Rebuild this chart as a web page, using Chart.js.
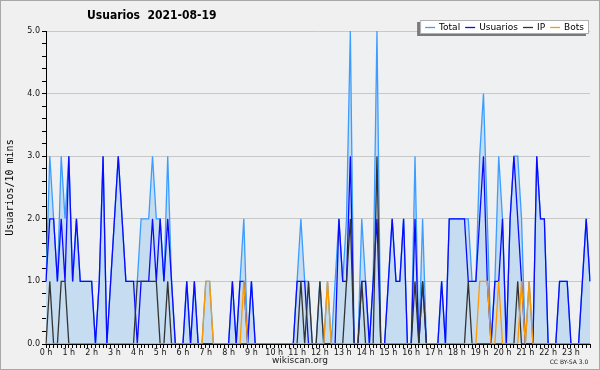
<!DOCTYPE html>
<html>
<head>
<meta charset="utf-8">
<script src="https://cdn.jsdelivr.net/npm/chart.js@4.4.0/dist/chart.umd.min.js"></script>
<style>
  html, body { margin: 0; padding: 0; background: #f0f0f0; }
  canvas { display: block; }
</style>
</head>
<body>
<canvas id="usersChart" width="600" height="370"></canvas>
<script>
const chartTitle = 'Usuarios  2021-08-19';
const hourLabels = ['0 h', '1 h', '2 h', '3 h', '4 h', '5 h', '6 h', '7 h', '8 h', '9 h', '10 h', '11 h',
  '12 h', '13 h', '14 h', '15 h', '16 h', '17 h', '18 h', '19 h', '20 h', '21 h', '22 h', '23 h'];

// one value per 10 minutes, 12 per row (2 hours)
const total = [
  1, 3, 2, 1, 3, 2, 3, 1, 2, 1, 1, 1,
  1, 0, 1, 3, 0, 1, 2, 3, 2, 1, 1, 1,
  1, 2, 2, 2, 3, 2, 2, 1, 3, 1, 0, 0,
  0, 1, 0, 1, 0, 0, 1, 1, 0, 0, 0, 0,
  0, 1, 0, 1, 2, 0, 1, 0, 0, 0, 0, 0,
  0, 0, 0, 0, 0, 0, 1, 2, 1, 1, 0, 0,
  1, 0, 1, 0, 1, 2, 1, 2, 5, 0, 0, 2,
  1, 0, 1, 5, 0, 0, 1, 2, 1, 1, 2, 0,
  0, 3, 0, 2, 0, 0, 0, 0, 1, 0, 2, 2,
  2, 2, 2, 2, 1, 1, 3, 4, 2, 0, 1, 3,
  2, 0, 2, 3, 3, 2, 0, 1, 0, 3, 2, 2,
  0, 0, 0, 1, 1, 1, 0, 0, 0, 1, 2, 1
];
const usuarios = [
  1, 2, 2, 1, 2, 1, 3, 1, 2, 1, 1, 1,
  1, 0, 1, 3, 0, 1, 2, 3, 2, 1, 1, 1,
  0, 1, 1, 1, 2, 1, 2, 1, 2, 1, 0, 0,
  0, 1, 0, 1, 0, 0, 0, 0, 0, 0, 0, 0,
  0, 1, 0, 1, 1, 0, 1, 0, 0, 0, 0, 0,
  0, 0, 0, 0, 0, 0, 1, 1, 1, 0, 0, 0,
  0, 0, 0, 0, 0, 2, 1, 1, 3, 0, 0, 1,
  1, 0, 1, 2, 0, 0, 1, 2, 1, 1, 2, 0,
  0, 2, 0, 1, 0, 0, 0, 0, 1, 0, 2, 2,
  2, 2, 2, 1, 1, 1, 2, 3, 1, 0, 1, 1,
  2, 0, 2, 3, 2, 1, 0, 0, 0, 3, 2, 2,
  0, 0, 0, 1, 1, 1, 0, 0, 0, 1, 2, 1
];
const ip = [
  0, 1, 0, 0, 1, 1, 0, 0, 0, 0, 0, 0,
  0, 0, 0, 0, 0, 0, 0, 0, 0, 0, 0, 0,
  1, 1, 1, 1, 1, 1, 0, 0, 1, 0, 0, 0,
  0, 0, 0, 0, 0, 0, 0, 0, 0, 0, 0, 0,
  0, 0, 0, 0, 0, 0, 0, 0, 0, 0, 0, 0,
  0, 0, 0, 0, 0, 0, 0, 1, 0, 1, 0, 0,
  1, 0, 0, 0, 0, 0, 0, 1, 2, 0, 0, 1,
  0, 0, 0, 3, 0, 0, 0, 0, 0, 0, 0, 0,
  0, 1, 0, 1, 0, 0, 0, 0, 0, 0, 0, 0,
  0, 0, 0, 1, 0, 0, 0, 0, 0, 0, 0, 0,
  0, 0, 0, 0, 1, 0, 0, 0, 0, 0, 0, 0,
  0, 0, 0, 0, 0, 0, 0, 0, 0, 0, 0, 0
];
const bots = [
  0, 0, 0, 0, 0, 0, 0, 0, 0, 0, 0, 0,
  0, 0, 0, 0, 0, 0, 0, 0, 0, 0, 0, 0,
  0, 0, 0, 0, 0, 0, 0, 0, 0, 0, 0, 0,
  0, 0, 0, 0, 0, 0, 1, 1, 0, 0, 0, 0,
  0, 0, 0, 0, 1, 0, 0, 0, 0, 0, 0, 0,
  0, 0, 0, 0, 0, 0, 0, 0, 0, 0, 0, 0,
  0, 0, 1, 0, 0, 0, 0, 0, 0, 0, 0, 0,
  0, 0, 0, 0, 0, 0, 0, 0, 0, 0, 0, 0,
  0, 0, 0, 0, 0, 0, 0, 0, 0, 0, 0, 0,
  0, 0, 0, 0, 0, 0, 1, 1, 1, 0, 0, 1,
  0, 0, 0, 0, 0, 1, 0, 1, 0, 0, 0, 0,
  0, 0, 0, 0, 0, 0, 0, 0, 0, 0, 0, 0
];

// 10 minute slots for the category axis
const slots = [];
hourLabels.forEach(h => {
  for (let m = 0; m < 60; m += 10) slots.push(h + ' ' + m);
});

const isWhole = v => Math.abs(v - Math.round(v)) < 1e-6;

const chrome = {
  id: 'chrome',
  beforeDraw(chart) {
    const { ctx, chartArea: a } = chart;
    ctx.save();
    ctx.fillStyle = '#eef0f2';
    ctx.fillRect(a.left, a.top, a.right - a.left, a.bottom - a.top);
    ctx.restore();
  },
  afterDraw(chart) {
    const ctx = chart.ctx;
    ctx.save();

    // title
    ctx.fillStyle = '#000';
    ctx.font = 'bold 12px "DejaVu Sans Condensed", "DejaVu Sans"';
    ctx.textBaseline = 'middle';
    ctx.textAlign = 'left';
    ctx.fillText(chartTitle, 87, 16);

    // legend box
    ctx.font = '9px "DejaVu Sans"';
    const items = chart.data.datasets.map(d => ({ label: d.label, color: d.borderColor }));
    let w = 5;
    items.forEach(it => { w += 10 + 4 + ctx.measureText(it.label).width + 5; });
    const x0 = 589 - w, top = 20, h = 14;
    ctx.fillStyle = '#7a7a7a';
    ctx.fillRect(x0 - 3, top + 2, w, h);
    ctx.fillStyle = '#fff';
    ctx.fillRect(x0, top, w, h);
    ctx.strokeStyle = '#b0b0b0';
    ctx.lineWidth = 1;
    ctx.strokeRect(x0 + 0.5, top + 0.5, w - 1, h - 1);
    let x = x0 + 5;
    items.forEach(it => {
      ctx.strokeStyle = it.color;
      ctx.lineWidth = 1.3;
      ctx.beginPath();
      ctx.moveTo(x, top + 7.5);
      ctx.lineTo(x + 10, top + 7.5);
      ctx.stroke();
      x += 14;
      ctx.fillStyle = '#000';
      ctx.fillText(it.label, x, top + 7.5);
      x += ctx.measureText(it.label).width + 5;
    });

    // footer
    ctx.font = '9px "DejaVu Sans"';
    ctx.textAlign = 'center';
    ctx.fillStyle = '#222';
    ctx.fillText('wikiscan.org', 300, 361);
    ctx.font = '6px "DejaVu Sans"';
    ctx.fillText('CC BY-SA 3.0', 569, 362);

    // outer frame
    ctx.strokeStyle = '#a8a8a8';
    ctx.lineWidth = 1;
    ctx.strokeRect(0.5, 0.5, 599, 369);
    ctx.restore();
  }
};

new Chart(document.getElementById('usersChart'), {
  type: 'line',
  data: {
    labels: slots,
    datasets: [
      { label: 'Total', data: total, borderColor: '#3c9cff', backgroundColor: '#c6dcf0', fill: 'origin', order: 4 },
      { label: 'Usuarios', data: usuarios, borderColor: '#0a0aff', fill: false, order: 3 },
      { label: 'IP', data: ip, borderColor: '#333333', fill: false, order: 2 },
      { label: 'Bots', data: bots, borderColor: '#ff9900', fill: false, order: 1 }
    ]
  },
  options: {
    responsive: false,
    animation: false,
    devicePixelRatio: 1,
    layout: { padding: { top: 31, right: 10, left: 0, bottom: 0 } },
    elements: { point: { radius: 0 }, line: { borderWidth: 1.3, tension: 0 } },
    plugins: { legend: { display: false }, title: { display: false }, tooltip: { enabled: false } },
    scales: {
      x: {
        type: 'category',
        offset: false,
        border: { color: '#000' },
        grid: { drawOnChartArea: false, tickLength: 4, tickColor: '#000' },
        ticks: {
          autoSkip: false, maxRotation: 0, minRotation: 0, padding: 0, color: '#111',
          font: { family: 'DejaVu Sans', size: 8 },
          callback: (v, i) => i % 6 === 0 ? hourLabels[i / 6] : ''
        },
        afterFit: s => { s.height = 26; }
      },
      y: {
        min: 0,
        max: 5,
        border: { color: '#000' },
        grid: {
          color: c => isWhole(c.tick.value) ? '#c8c8c8' : 'rgba(0,0,0,0)',
          tickColor: '#000',
          tickLength: 4
        },
        ticks: {
          stepSize: 0.2, autoSkip: false, padding: 2, color: '#111',
          font: { family: 'DejaVu Sans', size: 8 },
          callback: v => isWhole(v) ? v.toFixed(1) : ''
        },
        title: {
          display: true, text: 'Usuarios/10 mins', color: '#000',
          font: { family: 'DejaVu Sans Mono', size: 10 },
          padding: { top: 4, bottom: 0 }
        },
        afterFit: s => { s.width = 46; }
      }
    }
  },
  plugins: [chrome]
});
</script>
</body>
</html>
